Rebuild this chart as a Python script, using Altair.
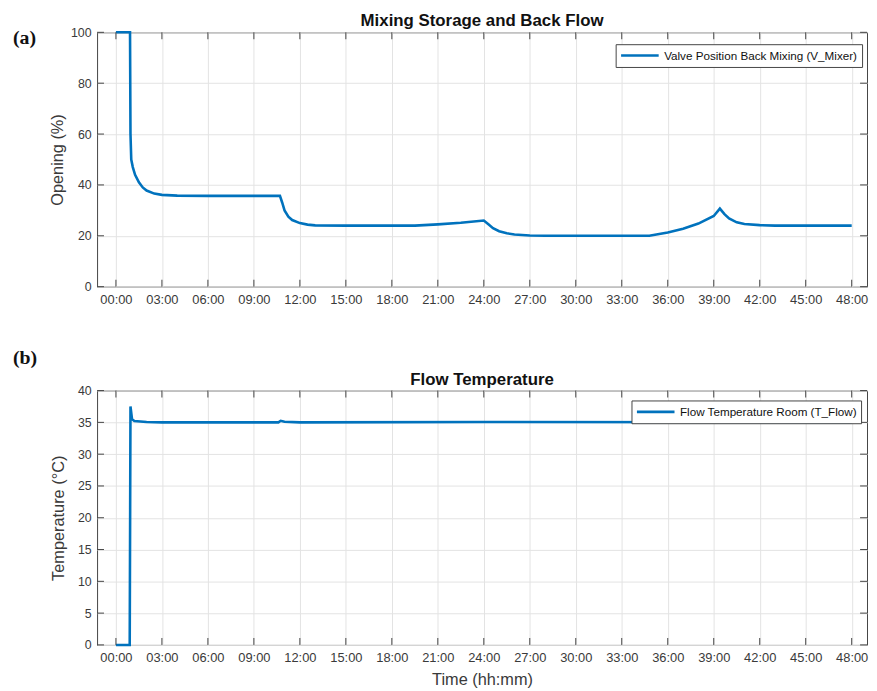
import altair as alt
import pandas as pd

# ---------------- data ----------------
hours_a = [0, 0.92, 0.95, 1.0, 1.1, 1.25, 1.5, 1.75, 2.0, 2.5, 3.0, 4.0, 6.0, 9.0, 10.7,
           10.85, 11.0, 11.25, 11.5, 12.0, 12.5, 13.0, 15.0, 18.0, 19.5, 21.0, 22.5, 24.0,
           24.3, 24.6, 25.0, 25.5, 26.0, 27.0, 28.0, 33.0, 34.8, 36.0, 37.0, 38.0, 39.0,
           39.4, 39.7, 40.0, 40.5, 41.0, 42.0, 43.0, 48.0]
opening_a = [100, 100, 60, 50, 47, 44, 41, 39, 37.8, 36.6, 36.1, 35.8, 35.7, 35.7, 35.7,
             33, 30, 27.5, 26.2, 25, 24.4, 24.1, 24, 24, 24, 24.5, 25.1, 26,
             24.5, 23, 21.8, 21, 20.5, 20.1, 20, 20, 20, 21.3, 22.8, 24.8, 27.8,
             30.7, 28.5, 26.8, 25.3, 24.6, 24.2, 24, 24]

hours_b = [0, 0.9, 0.95, 1.05, 1.2, 2.0, 3.0, 10.6, 10.75, 11.0, 12.0, 24.0, 48.0]
temp_b = [0, 0, 37.5, 35.5, 35.2, 35.05, 35, 35, 35.25, 35.1, 35, 35.05, 35]

x_ticks = list(range(0, 49, 3))
y_ticks_a = [0, 20, 40, 60, 80, 100]
y_ticks_b = [0, 5, 10, 15, 20, 25, 30, 35, 40]

series_a = "Valve Position Back Mixing (V_Mixer)"
series_b = "Flow Temperature Room (T_Flow)"
title_a = "Mixing Storage and Back Flow"
title_b = "Flow Temperature"

# ---------------- styling ----------------
W, H = 778, 257
X_DOMAIN = [-1.23, 49.0]
BLUE = "#0072BD"
FONT = "Liberation Sans"
AX = "#444444"
TXT = "#3a3a3a"
LABEL_EXPR = "(datum.value < 10 ? '0' : '') + datum.value + ':00'"


def panel(hours, values, series, yticks, ydomain, title, ytitle, xtitle, tag,
          tag_y, ytitle_pad, legend_x, legend_y):
    df = pd.DataFrame({"t": hours, "v": values, "s": series})
    xscale = alt.Scale(domain=X_DOMAIN, nice=False, zero=False)
    yscale = alt.Scale(domain=ydomain, nice=False, zero=False)

    xaxis = alt.Axis(values=x_ticks, labelExpr=LABEL_EXPR, title=xtitle, grid=True,
                     gridColor="#e3e3e3", ticks=False, domain=False, labelFont=FONT,
                     labelFontSize=13, labelColor=TXT, labelPadding=7, titleFont=FONT,
                     titleFontSize=16.5, titleFontWeight="normal", titleColor=TXT,
                     titlePadding=7, labelFlush=False)
    yaxis = alt.Axis(values=yticks, title=ytitle, grid=True, gridColor="#e3e3e3",
                     ticks=False, domain=False, labelFont=FONT, labelFontSize=12.5,
                     labelColor=TXT, labelPadding=6, titleFont=FONT, titleFontSize=16.5,
                     titleFontWeight="normal", titleColor=TXT, titlePadding=ytitle_pad)

    line = alt.Chart(df).mark_line(strokeWidth=2.6).encode(
        x=alt.X("t:Q", scale=xscale, axis=xaxis),
        y=alt.Y("v:Q", scale=yscale, axis=yaxis),
        color=alt.Color("s:N", scale=alt.Scale(domain=[series], range=[BLUE]),
                        legend=alt.Legend(title=None, orient="none", legendX=legend_x,
                                          legendY=legend_y, strokeColor=AX,
                                          fillColor="white", padding=4,
                                          labelFont=FONT, labelFontSize=11.8,
                                          labelColor="#111", labelLimit=500,
                                          symbolType="M-1,0H5.33",
                                          symbolStrokeWidth=2.6, symbolSize=144,
                                          symbolOffset=0, labelOffset=30,
                                          cornerRadius=0)),
    )

    tx = pd.DataFrame({"t": x_ticks})
    ty = pd.DataFrame({"v": yticks})
    rule = dict(color=AX, strokeWidth=1)
    bottom_ticks = alt.Chart(tx).mark_rule(**rule).encode(
        x=alt.X("t:Q", scale=xscale, axis=xaxis), y=alt.value(H), y2=alt.value(H - 7))
    top_ticks = alt.Chart(tx).mark_rule(**rule).encode(
        x=alt.X("t:Q", scale=xscale, axis=xaxis), y=alt.value(0), y2=alt.value(7))
    left_ticks = alt.Chart(ty).mark_rule(**rule).encode(
        y=alt.Y("v:Q", scale=yscale, axis=yaxis), x=alt.value(0), x2=alt.value(7))
    right_ticks = alt.Chart(ty).mark_rule(**rule).encode(
        y=alt.Y("v:Q", scale=yscale, axis=yaxis), x=alt.value(W - 7), x2=alt.value(W))

    label = alt.Chart(pd.DataFrame({"lab": [tag]})).mark_text(
        font="Liberation Serif", fontSize=20, fontWeight="bold", align="left",
        baseline="middle", color="#111").encode(
        text="lab:N", x=alt.value(-85), y=alt.value(tag_y))

    head = alt.Chart(pd.DataFrame({"ttl": [title]})).mark_text(
        font=FONT, fontSize=17, fontWeight="bold", align="center",
        baseline="top", color="#111").encode(
        text="ttl:N", x=alt.value(W / 2), y=alt.value(-19))

    return alt.layer(line, bottom_ticks, top_ticks, left_ticks, right_ticks, label,
                     head).properties(width=W, height=H)


top = panel(hours_a, opening_a, series_a, y_ticks_a, [0, 100],
            title_a, "Opening (%)", None, "(a)", 5.7, 5, 524, 12)
bottom = panel(hours_b, temp_b, series_b, y_ticks_b, [0, 40],
               title_b, "Temperature (°C)", "Time (hh:mm)", "(b)", -33, 11, 540, 10)

chart = alt.vconcat(top, bottom, spacing=40).resolve_scale(
    color="independent").resolve_legend(color="independent").properties(
    padding={"left": 4, "top": 0, "right": 0, "bottom": 0}
).configure_view(stroke=AX, strokeWidth=1).configure_concat(spacing=40)

chart.save("out.html", embed_options={"renderer": "svg", "actions": False})
